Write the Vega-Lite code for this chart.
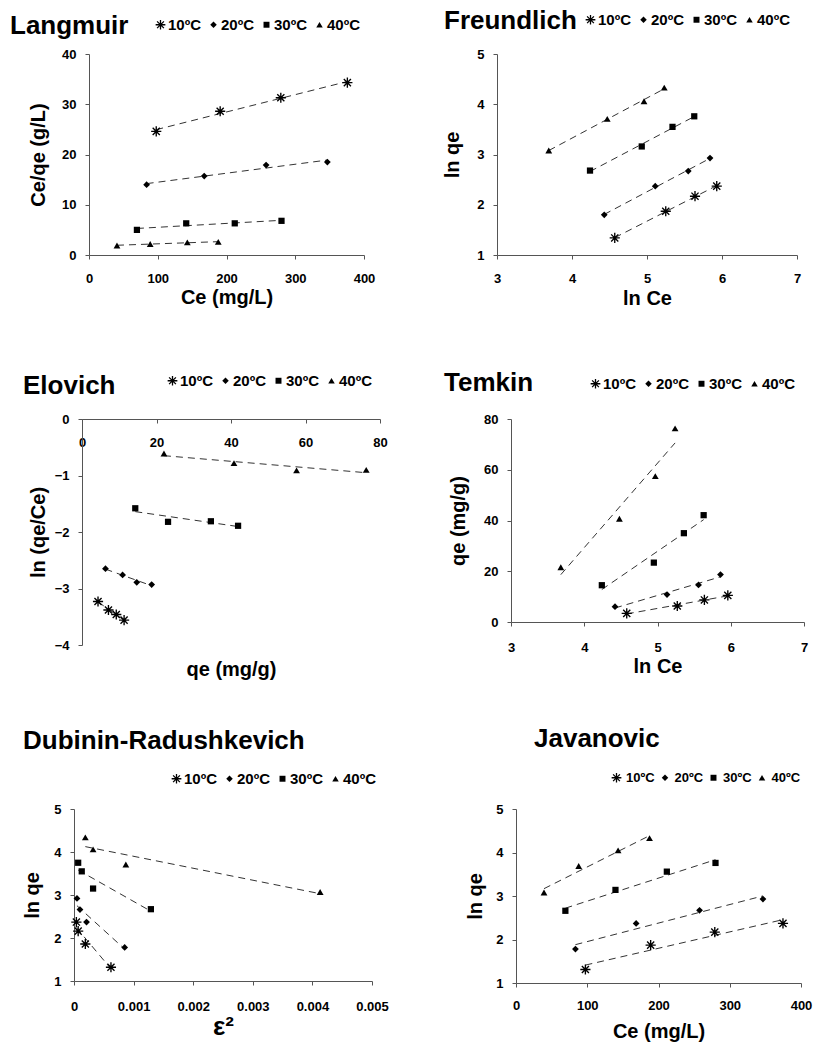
{
  "$schema": "https://vega.github.io/schema/vega-lite/v6.json",
  "padding": {"top": 7, "left": 9, "right": 5, "bottom": 5},
  "background": "white",
  "datasets": {
    "langmuir": [
      {"t": "10ºC", "x": 97.8, "y": 24.6}, {"t": "10ºC", "x": 190.8, "y": 28.6}, {"t": "10ºC", "x": 279, "y": 31.3}, {"t": "10ºC", "x": 375.8, "y": 34.3},
      {"t": "20ºC", "x": 83.8, "y": 14.0}, {"t": "20ºC", "x": 167.6, "y": 15.7}, {"t": "20ºC", "x": 257.6, "y": 17.9}, {"t": "20ºC", "x": 346.7, "y": 18.5},
      {"t": "30ºC", "x": 69.7, "y": 5.0}, {"t": "30ºC", "x": 141.4, "y": 6.3}, {"t": "30ºC", "x": 212, "y": 6.3}, {"t": "30ºC", "x": 280, "y": 6.8},
      {"t": "40ºC", "x": 40.7, "y": 1.9}, {"t": "40ºC", "x": 89, "y": 2.2}, {"t": "40ºC", "x": 143, "y": 2.5}, {"t": "40ºC", "x": 188, "y": 2.6}
    ],
    "freundlich": [
      {"t": "10ºC", "x": 4.57, "y": 1.34}, {"t": "10ºC", "x": 5.25, "y": 1.87}, {"t": "10ºC", "x": 5.64, "y": 2.17}, {"t": "10ºC", "x": 5.93, "y": 2.37},
      {"t": "20ºC", "x": 4.43, "y": 1.80}, {"t": "20ºC", "x": 5.11, "y": 2.37}, {"t": "20ºC", "x": 5.55, "y": 2.67}, {"t": "20ºC", "x": 5.84, "y": 2.93},
      {"t": "30ºC", "x": 4.24, "y": 2.68}, {"t": "30ºC", "x": 4.93, "y": 3.16}, {"t": "30ºC", "x": 5.34, "y": 3.55}, {"t": "30ºC", "x": 5.63, "y": 3.76},
      {"t": "40ºC", "x": 3.69, "y": 3.08}, {"t": "40ºC", "x": 4.47, "y": 3.71}, {"t": "40ºC", "x": 4.96, "y": 4.06}, {"t": "40ºC", "x": 5.23, "y": 4.33}
    ],
    "elovich": [
      {"t": "10ºC", "x": 4.3, "y": -3.23}, {"t": "10ºC", "x": 7.1, "y": -3.38}, {"t": "10ºC", "x": 9.2, "y": -3.46}, {"t": "10ºC", "x": 11.3, "y": -3.56},
      {"t": "20ºC", "x": 6.3, "y": -2.65}, {"t": "20ºC", "x": 10.9, "y": -2.76}, {"t": "20ºC", "x": 14.7, "y": -2.89}, {"t": "20ºC", "x": 18.7, "y": -2.93},
      {"t": "30ºC", "x": 14.3, "y": -1.58}, {"t": "30ºC", "x": 23.1, "y": -1.82}, {"t": "30ºC", "x": 34.6, "y": -1.81}, {"t": "30ºC", "x": 41.9, "y": -1.89},
      {"t": "40ºC", "x": 22.0, "y": -0.61}, {"t": "40ºC", "x": 40.8, "y": -0.78}, {"t": "40ºC", "x": 57.6, "y": -0.91}, {"t": "40ºC", "x": 76.3, "y": -0.90}
    ],
    "temkin": [
      {"t": "10ºC", "x": 4.58, "y": 3.4}, {"t": "10ºC", "x": 5.27, "y": 6.3}, {"t": "10ºC", "x": 5.64, "y": 8.7}, {"t": "10ºC", "x": 5.96, "y": 10.5},
      {"t": "20ºC", "x": 4.42, "y": 6.05}, {"t": "20ºC", "x": 5.13, "y": 10.8}, {"t": "20ºC", "x": 5.56, "y": 14.6}, {"t": "20ºC", "x": 5.86, "y": 18.7},
      {"t": "30ºC", "x": 4.24, "y": 14.5}, {"t": "30ºC", "x": 4.95, "y": 23.4}, {"t": "30ºC", "x": 5.36, "y": 35.0}, {"t": "30ºC", "x": 5.63, "y": 42.1},
      {"t": "40ºC", "x": 3.68, "y": 21.6}, {"t": "40ºC", "x": 4.48, "y": 40.7}, {"t": "40ºC", "x": 4.97, "y": 57.5}, {"t": "40ºC", "x": 5.24, "y": 76.3}
    ],
    "dubinin": [
      {"t": "10ºC", "x": 0.00004, "y": 2.37}, {"t": "10ºC", "x": 0.00007, "y": 2.16}, {"t": "10ºC", "x": 0.00019, "y": 1.86}, {"t": "10ºC", "x": 0.00062, "y": 1.32},
      {"t": "20ºC", "x": 0.00005, "y": 2.92}, {"t": "20ºC", "x": 0.0001, "y": 2.66}, {"t": "20ºC", "x": 0.00021, "y": 2.37}, {"t": "20ºC", "x": 0.00085, "y": 1.78},
      {"t": "30ºC", "x": 0.00007, "y": 3.75}, {"t": "30ºC", "x": 0.00013, "y": 3.55}, {"t": "30ºC", "x": 0.00032, "y": 3.15}, {"t": "30ºC", "x": 0.00129, "y": 2.67},
      {"t": "40ºC", "x": 0.00019, "y": 4.34}, {"t": "40ºC", "x": 0.00032, "y": 4.06}, {"t": "40ºC", "x": 0.00087, "y": 3.71}, {"t": "40ºC", "x": 0.00413, "y": 3.07}
    ],
    "javanovic": [
      {"t": "10ºC", "x": 97.4, "y": 1.31}, {"t": "10ºC", "x": 189, "y": 1.87}, {"t": "10ºC", "x": 279, "y": 2.17}, {"t": "10ºC", "x": 374.7, "y": 2.37},
      {"t": "20ºC", "x": 83.4, "y": 1.78}, {"t": "20ºC", "x": 168.6, "y": 2.37}, {"t": "20ºC", "x": 257.6, "y": 2.67}, {"t": "20ºC", "x": 346.6, "y": 2.93},
      {"t": "30ºC", "x": 69.3, "y": 2.66}, {"t": "30ºC", "x": 139.6, "y": 3.14}, {"t": "30ºC", "x": 211.7, "y": 3.56}, {"t": "30ºC", "x": 280, "y": 3.76},
      {"t": "40ºC", "x": 39.3, "y": 3.08}, {"t": "40ºC", "x": 88, "y": 3.69}, {"t": "40ºC", "x": 143.3, "y": 4.05}, {"t": "40ºC", "x": 187.4, "y": 4.33}
    ]
  },
  "columns": 2,
  "align": "each",
  "bounds": "flush",
  "spacing": {"row": 164, "column": 117},
  "resolve": {"scale": {"shape": "independent", "x": "independent", "y": "independent"}, "legend": {"shape": "independent"}},
  "concat": [
    {
      "width": 290, "height": 201,
      "title": {"text": "Langmuir", "dx": -64, "offset": -22},
      "data": {"name": "langmuir"},
      "layer": [
        {"mark": {"type": "line", "strokeDash": [7, 5], "color": "#333333", "strokeWidth": 1},
         "transform": [{"regression": "y", "on": "x", "groupby": ["t"]}],
         "encoding": {"x": {"field": "x", "type": "quantitative"}, "y": {"field": "y", "type": "quantitative"}, "detail": {"field": "t"}}},
        {"mark": {"type": "point", "filled": true, "color": "black", "size": 46, "opacity": 1},
         "encoding": {
           "x": {"field": "x", "type": "quantitative", "scale": {"domain": [0, 400], "range": [15, 290], "nice": false, "zero": false}, "axis": {"title": "Ce (mg/L)", "values": [0, 100, 200, 300, 400], "titlePadding": 2}},
           "y": {"field": "y", "type": "quantitative", "scale": {"domain": [0, 40], "nice": false, "zero": false}, "axis": {"title": "Ce/qe (g/L)", "values": [0, 10, 20, 30, 40], "titlePadding": 13, "offset": -15}},
           "shape": {"field": "t", "type": "nominal", "scale": {"domain": ["10ºC", "20ºC", "30ºC", "40ºC"], "range": ["M-1.5,-0.2H1.5V0.2H-1.5ZM-0.2,-1.5H0.2V1.5H-0.2ZM-0.91,-1.19L1.19,0.91L0.91,1.19L-1.19,-0.91ZM-1.19,0.91L0.91,-1.19L1.19,-0.91L-0.91,1.19Z", "diamond", "M-0.92,-0.92H0.92V0.92H-0.92Z", "triangle-up"]},
             "legend": {"legendX": 79, "legendY": -37}}
         }}
      ]
    },
    {
      "width": 300, "height": 201,
      "title": {"text": "Freundlich", "dx": -53, "offset": -22},
      "data": {"name": "freundlich"},
      "layer": [
        {"mark": {"type": "line", "strokeDash": [7, 5], "color": "#333333", "strokeWidth": 1},
         "transform": [{"regression": "y", "on": "x", "groupby": ["t"]}],
         "encoding": {"x": {"field": "x", "type": "quantitative"}, "y": {"field": "y", "type": "quantitative"}, "detail": {"field": "t"}}},
        {"mark": {"type": "point", "filled": true, "color": "black", "size": 46, "opacity": 1},
         "encoding": {
           "x": {"field": "x", "type": "quantitative", "scale": {"domain": [3, 7], "nice": false, "zero": false}, "axis": {"title": "ln Ce", "values": [3, 4, 5, 6, 7], "titlePadding": 3}},
           "y": {"field": "y", "type": "quantitative", "scale": {"domain": [1, 5], "nice": false, "zero": false}, "axis": {"title": "ln qe", "values": [1, 2, 3, 4, 5], "titlePadding": 14}},
           "shape": {"field": "t", "type": "nominal", "scale": {"domain": ["10ºC", "20ºC", "30ºC", "40ºC"], "range": ["M-1.5,-0.2H1.5V0.2H-1.5ZM-0.2,-1.5H0.2V1.5H-0.2ZM-0.91,-1.19L1.19,0.91L0.91,1.19L-1.19,-0.91ZM-1.19,0.91L0.91,-1.19L1.19,-0.91L-0.91,1.19Z", "diamond", "M-0.92,-0.92H0.92V0.92H-0.92Z", "triangle-up"]},
             "legend": {"legendX": 86, "legendY": -42}}
         }}
      ]
    },
    {
      "width": 306, "height": 226,
      "title": {"text": "Elovich", "dx": -51, "offset": -26},
      "data": {"name": "elovich"},
      "layer": [
        {"mark": {"type": "line", "strokeDash": [7, 5], "color": "#333333", "strokeWidth": 1},
         "transform": [{"regression": "y", "on": "x", "groupby": ["t"]}],
         "encoding": {"x": {"field": "x", "type": "quantitative"}, "y": {"field": "y", "type": "quantitative"}, "detail": {"field": "t"}}},
        {"mark": {"type": "point", "filled": true, "color": "black", "size": 46, "opacity": 1},
         "encoding": {
           "x": {"field": "x", "type": "quantitative", "scale": {"domain": [0, 80], "range": [8, 306], "nice": false, "zero": false}, "axis": {"title": "qe (mg/g)", "values": [0, 20, 40, 60, 80], "orient": "bottom", "offset": -226, "titleY": 240, "titleBaseline": "top"}},
           "y": {"field": "y", "type": "quantitative", "scale": {"domain": [-4, 0], "nice": false, "zero": false}, "axis": {"title": "ln (qe/Ce)", "values": [-4, -3, -2, -1, 0], "titlePadding": 6, "offset": -8}},
           "shape": {"field": "t", "type": "nominal", "scale": {"domain": ["10ºC", "20ºC", "30ºC", "40ºC"], "range": ["M-1.5,-0.2H1.5V0.2H-1.5ZM-0.2,-1.5H0.2V1.5H-0.2ZM-0.91,-1.19L1.19,0.91L0.91,1.19L-1.19,-0.91ZM-1.19,0.91L0.91,-1.19L1.19,-0.91L-0.91,1.19Z", "diamond", "M-0.92,-0.92H0.92V0.92H-0.92Z", "triangle-up"]},
             "legend": {"legendX": 91, "legendY": -46}}
         }}
      ]
    },
    {
      "width": 307, "height": 203,
      "title": {"text": "Temkin", "dx": -53, "offset": -20},
      "data": {"name": "temkin"},
      "layer": [
        {"mark": {"type": "line", "strokeDash": [7, 5], "color": "#333333", "strokeWidth": 1},
         "transform": [{"regression": "y", "on": "x", "groupby": ["t"]}],
         "encoding": {"x": {"field": "x", "type": "quantitative"}, "y": {"field": "y", "type": "quantitative"}, "detail": {"field": "t"}}},
        {"mark": {"type": "point", "filled": true, "color": "black", "size": 46, "opacity": 1},
         "encoding": {
           "x": {"field": "x", "type": "quantitative", "scale": {"domain": [3, 7], "range": [14, 307], "nice": false, "zero": false}, "axis": {"title": "ln Ce", "values": [3, 4, 5, 6, 7], "labelPadding": 15, "titlePadding": 2}},
           "y": {"field": "y", "type": "quantitative", "scale": {"domain": [0, 80], "nice": false, "zero": false}, "axis": {"title": "qe (mg/g)", "values": [0, 20, 40, 60, 80], "titlePadding": 15, "offset": -14}},
           "shape": {"field": "t", "type": "nominal", "scale": {"domain": ["10ºC", "20ºC", "30ºC", "40ºC"], "range": ["M-1.5,-0.2H1.5V0.2H-1.5ZM-0.2,-1.5H0.2V1.5H-0.2ZM-0.91,-1.19L1.19,0.91L0.91,1.19L-1.19,-0.91ZM-1.19,0.91L0.91,-1.19L1.19,-0.91L-0.91,1.19Z", "diamond", "M-0.92,-0.92H0.92V0.92H-0.92Z", "triangle-up"]},
             "legend": {"legendX": 91, "legendY": -43}}
         }}
      ]
    },
    {
      "width": 298, "height": 172,
      "title": {"text": "Dubinin-Radushkevich", "dx": -51, "offset": 17},
      "data": {"name": "dubinin"},
      "layer": [
        {"mark": {"type": "line", "strokeDash": [7, 5], "color": "#333333", "strokeWidth": 1},
         "transform": [{"regression": "y", "on": "x", "groupby": ["t"]}],
         "encoding": {"x": {"field": "x", "type": "quantitative"}, "y": {"field": "y", "type": "quantitative"}, "detail": {"field": "t"}}},
        {"mark": {"type": "point", "filled": true, "color": "black", "size": 46, "opacity": 1},
         "encoding": {
           "x": {"field": "x", "type": "quantitative", "scale": {"domain": [0, 0.005], "nice": false, "zero": false}, "axis": {"title": "ε²", "format": ".3~f", "values": [0, 0.001, 0.002, 0.003, 0.004, 0.005], "labelPadding": 15, "titlePadding": 0, "titleFontSize": 26}},
           "y": {"field": "y", "type": "quantitative", "scale": {"domain": [1, 5], "nice": false, "zero": false}, "axis": {"title": "ln qe", "values": [1, 2, 3, 4, 5], "titlePadding": 11}},
           "shape": {"field": "t", "type": "nominal", "scale": {"domain": ["10ºC", "20ºC", "30ºC", "40ºC"], "range": ["M-1.5,-0.2H1.5V0.2H-1.5ZM-0.2,-1.5H0.2V1.5H-0.2ZM-0.91,-1.19L1.19,0.91L0.91,1.19L-1.19,-0.91ZM-1.19,0.91L0.91,-1.19L1.19,-0.91L-0.91,1.19Z", "diamond", "M-0.92,-0.92H0.92V0.92H-0.92Z", "triangle-up"]},
             "legend": {"legendX": 95, "legendY": -38}}
         }}
      ]
    },
    {
      "width": 304, "height": 174,
      "title": {"text": "Javanovic", "dx": 37, "offset": 19},
      "data": {"name": "javanovic"},
      "layer": [
        {"mark": {"type": "line", "strokeDash": [7, 5], "color": "#333333", "strokeWidth": 1},
         "transform": [{"regression": "y", "on": "x", "groupby": ["t"]}],
         "encoding": {"x": {"field": "x", "type": "quantitative"}, "y": {"field": "y", "type": "quantitative"}, "detail": {"field": "t"}}},
        {"mark": {"type": "point", "filled": true, "color": "black", "size": 46, "opacity": 1},
         "encoding": {
           "x": {"field": "x", "type": "quantitative", "scale": {"domain": [0, 400], "range": [19, 304], "nice": false, "zero": false}, "axis": {"title": "Ce (mg/L)", "values": [0, 100, 200, 300, 400], "labelPadding": 12, "titlePadding": 9}},
           "y": {"field": "y", "type": "quantitative", "scale": {"domain": [1, 5], "nice": false, "zero": false}, "axis": {"title": "ln qe", "values": [1, 2, 3, 4, 5], "titlePadding": 10, "offset": -19}},
           "shape": {"field": "t", "type": "nominal", "scale": {"domain": ["10ºC", "20ºC", "30ºC", "40ºC"], "range": ["M-1.5,-0.2H1.5V0.2H-1.5ZM-0.2,-1.5H0.2V1.5H-0.2ZM-0.91,-1.19L1.19,0.91L0.91,1.19L-1.19,-0.91ZM-1.19,0.91L0.91,-1.19L1.19,-0.91L-0.91,1.19Z", "diamond", "M-0.92,-0.92H0.92V0.92H-0.92Z", "triangle-up"]},
             "legend": {"legendX": 113, "legendY": -38, "labelFontSize": 13, "columnPadding": 3.5, "labelOffset": 3}}
         }}
      ]
    }
  ],
  "config": {
    "view": {"stroke": "transparent"},
    "font": "Liberation Sans",
    "title": {"anchor": "start", "frame": "group", "font": "Liberation Sans", "fontSize": 26, "fontWeight": "bold", "color": "black", "baseline": "alphabetic"},
    "axis": {"grid": false, "format": "d", "labelFont": "Liberation Sans", "labelFontWeight": "bold", "labelFontSize": 13, "labelColor": "black", "titleFont": "Liberation Sans", "titleFontWeight": "bold", "titleFontSize": 20, "titleColor": "black", "domainColor": "#555555", "tickColor": "#555555", "tickSize": 4, "labelFlush": false, "labelOverlap": false},
    "axisX": {"labelPadding": 13},
    "axisY": {"labelPadding": 9},
    "legend": {"orient": "none", "direction": "horizontal", "columns": 4, "title": null, "padding": 0, "labelFont": "Liberation Sans", "labelFontWeight": "bold", "labelFontSize": 15, "labelColor": "black", "symbolSize": 42, "symbolFillColor": "black", "symbolStrokeColor": "black", "symbolStrokeWidth": 0, "labelOffset": 0, "columnPadding": 5, "rowPadding": 0}
  }
}
